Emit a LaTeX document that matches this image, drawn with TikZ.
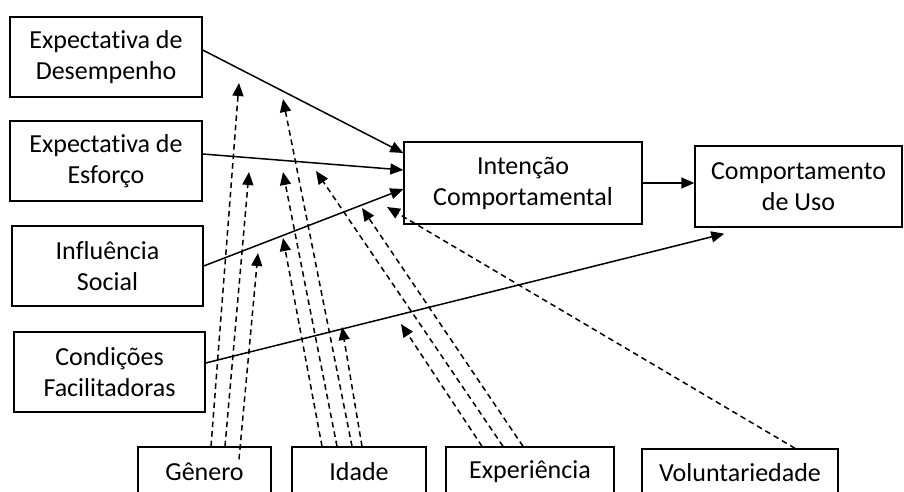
\documentclass[tikz,border=0pt]{standalone}
\usepackage{fontspec}
\setmainfont{Carlito}[RawFeature={-liga;-clig;-dlig;-calt}]
\usetikzlibrary{arrows.meta}

\begin{document}
\begin{tikzpicture}[x=0.5pt, y=-0.5pt,
    caixa/.style={draw, line width=0.7pt, align=center, inner sep=0pt,
        font=\fontsize{13}{15.5}\selectfont},
    efeito/.style={line width=0.75pt, -{Triangle[length=6.5pt,width=5.5pt]}},
    moderador/.style={efeito, dash pattern=on 2.8pt off 2pt}]
    \useasboundingbox (0,0) rectangle (904,492);
    \clip (0,0) rectangle (904,492);
    % construtos
    \node[caixa, minimum width=96pt, minimum height=40pt] (ed) at (106,57) {Expectativa de\\Desempenho};
    \node[caixa, minimum width=96pt, minimum height=40pt] (ee) at (106,161) {Expectativa de\\Esforço};
    \node[caixa, minimum width=95.5pt, minimum height=40pt] (is) at (107.5,266) {Influência\\Social};
    \node[caixa, minimum width=95.5pt, minimum height=40pt] (cf) at (109.5,372) {Condições\\Facilitadoras};
    \node[caixa, minimum width=119pt, minimum height=41pt] (ic) at (523,183) {Intenção\\Comportamental};
    \node[caixa, minimum width=103.5pt, minimum height=40.5pt] (cu) at (798.5,186.5) {Comportamento\\de Uso};
    % moderadores
    \node[caixa, minimum width=66.5pt, minimum height=25pt] (gen) at (204.5,472) {Gênero};
    \node[caixa, minimum width=67pt, minimum height=25pt] (ida) at (359,472) {Idade};
    \node[caixa, minimum width=84pt, minimum height=25pt] (exp) at (530,472) {Experiência};
    \node[caixa, minimum width=98pt, minimum height=24pt] (vol) at (740,473) {Voluntariedade};
    % pontas dos moderadores
    \coordinate (g1) at (239,83);
    \coordinate (g2) at (249,172);
    \coordinate (g3) at (258,253);
    \coordinate (i1) at (283,238);
    \coordinate (i2) at (283,172);
    \coordinate (i3) at (283,99);
    \coordinate (i4) at (342,327);
    \coordinate (e1) at (401,324);
    \coordinate (e2) at (316,171);
    \coordinate (e3) at (362,208);
    \coordinate (v1) at (387,207);
    % efeitos diretos
    \draw[efeito] ([yshift=3.5pt]ed.east) -- ([yshift=15pt]ic.west);
    \draw[efeito] ([yshift=3.5pt]ee.east) -- ([yshift=6.5pt]ic.west);
    \draw[efeito] (is.east) -- ([yshift=-3pt]ic.west);
    \draw[efeito] ([yshift=4.5pt]cf.east) -- ([xshift=15pt,yshift=-3pt]cu.south west);
    \draw[efeito] (ic.east) -- (ic.east -| cu.west);
    % efeitos moderadores
    \draw[moderador] ([xshift=3.25pt]gen.north) -- (g1);
    \draw[moderador] ([xshift=10.25pt]gen.north) -- (g2);
    \draw[moderador] ([xshift=17.25pt,yshift=-6.5pt]gen.north) -- (g3);
    \draw[moderador] ([xshift=-18.5pt]ida.north) -- (i1);
    \draw[moderador] ([xshift=-11pt]ida.north) -- (i2);
    \draw[moderador] ([xshift=-3.5pt]ida.north) -- (i3);
    \draw[moderador] ([xshift=1.5pt]ida.north) -- (i4);
    \draw[moderador] ([xshift=-24pt]exp.north) -- (e1);
    \draw[moderador] ([xshift=-13.5pt]exp.north) -- (e2);
    \draw[moderador] ([xshift=-3.5pt]exp.north) -- (e3);
    \draw[moderador] ([xshift=27.5pt]vol.north) -- (v1);
\end{tikzpicture}
\end{document}
